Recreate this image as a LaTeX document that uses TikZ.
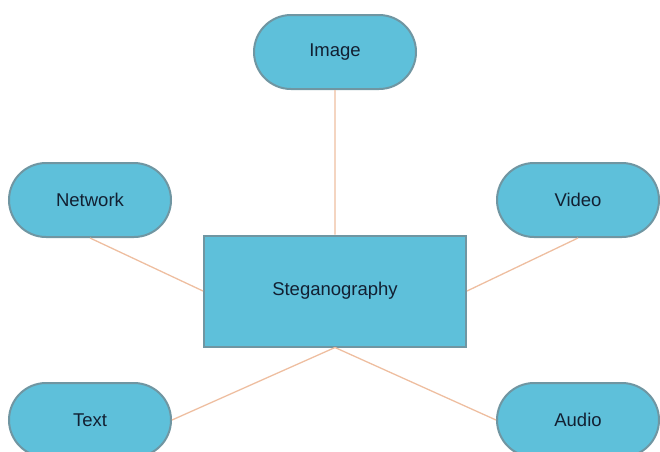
\documentclass[tikz,border=0pt]{standalone}
\usepackage{fontspec}
\setmainfont{Liberation Sans}
\usetikzlibrary{%
  shapes.misc,% wg. rounded rectangle
  positioning%
}
\definecolor{stegfill}{RGB}{94,192,218}
\definecolor{stegborder}{RGB}{112,150,162}
\definecolor{steglink}{RGB}{238,190,160}
\definecolor{stegtext}{RGB}{18,32,50}

\begin{document}
\begin{tikzpicture}
[x=1pt, y=-1pt, line width=2pt, font=\fontsize{18.5}{22}\selectfont,
medium/.style={rounded rectangle, draw=stegborder, fill=stegfill, text=stegtext, inner sep=0pt, minimum width=162pt, minimum height=74pt},
core/.style={rectangle, draw=stegborder, fill=stegfill, text=stegtext, inner sep=0pt, minimum width=262pt, minimum height=111pt},
link/.style={draw=steglink, line width=1.3pt}]

\useasboundingbox (0,0) rectangle (660,451);
\clip (0,0) rectangle (660,451);

\node[core] (steg) at (335,291) {Steganography};
\node[medium] (image) at (335,52) {Image}
  edge [link] (steg.north);
\node[medium] (network) at (90,200) {Network};
\node[medium] (video) at (578,200) {Video};
\node[medium] (text) at (90,420) {Text};
\node[medium] (audio) at (578,420) {Audio};

\draw[link] (network.south) -- (steg.west);
\draw[link] (video.south) -- (steg.east);
\draw[link] (text.east) -- (steg.south);
\draw[link] (audio.west) -- (steg.south);
\end{tikzpicture}
\end{document}
